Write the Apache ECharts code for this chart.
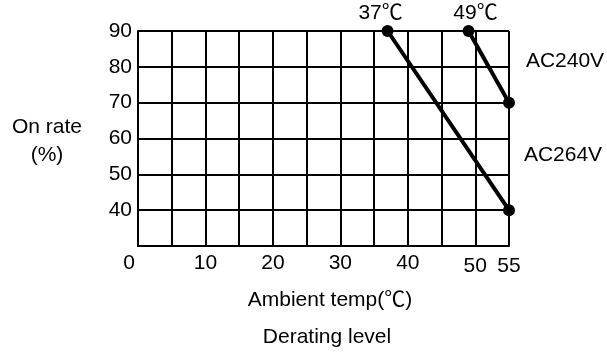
<!DOCTYPE html>
<html>
<head>
<meta charset="utf-8">
<script src="https://cdn.jsdelivr.net/npm/echarts@6/dist/echarts.min.js"></script>
<style>
  html, body { margin: 0; padding: 0; background: #fff; }
  #chart { width: 607px; height: 354px; }
</style>
</head>
<body>
<div id="chart"></div>
<script>
// Derating curves: on rate (%) versus ambient temperature
const xTickLabels = [0, 10, 20, 30, 40, 50, 55];
const yTickLabels = [40, 50, 60, 70, 80, 90];
const ac240Temp = [49, 55];
const ac240Rate = [90, 70];
const ac264Temp = [37, 55];
const ac264Rate = [90, 40];
const seriesNames = ['AC240V', 'AC264V'];

const FONT = '"Liberation Sans", Arial, "Noto Sans CJK SC", sans-serif';
const FS = 21;
const INK = '#000';

const pairs = (xs, ys) => xs.map((x, i) => [x, ys[i]]);

const chart = echarts.init(document.getElementById('chart'), null, { renderer: 'canvas' });

function makeSeries(name, xs, ys, labelOffset) {
  return {
    name: name,
    type: 'line',
    data: pairs(xs, ys).map((p, i) => ({
      value: p,
      label: i === 0 ? {
        show: true,
        position: 'top',
        distance: 1,
        offset: labelOffset,
        formatter: (d) => d.value[0] + '℃',
        color: INK,
        fontFamily: FONT,
        fontSize: FS
      } : { show: false }
    })),
    symbol: 'circle',
    symbolSize: 12,
    itemStyle: { color: INK },
    lineStyle: { color: INK, width: 4 },
    animation: false,
    z: 5
  };
}

const textStyle = (text, x, y) => ({
  type: 'text', x: x, y: y,
  style: { text: text, fill: INK, font: FS + 'px ' + FONT, align: 'center', verticalAlign: 'middle' }
});

chart.setOption({
  backgroundColor: '#fff',
  animation: false,
  grid: { left: 138, right: 98, top: 31, bottom: 108, containLabel: false },
  xAxis: {
    type: 'value',
    min: 0,
    max: 55,
    interval: 5,
    axisLine: { show: true, lineStyle: { color: INK, width: 2 } },
    axisTick: { show: false },
    splitLine: { show: true, lineStyle: { color: INK, width: 2 } },
    axisLabel: {
      margin: 7,
      color: INK,
      fontFamily: FONT,
      fontSize: FS,
      formatter: (v) => {
        if (v === 0) return '{zero|0}';
        if (v >= 50) return '{low|' + v + '}';
        return xTickLabels.indexOf(v) >= 0 ? String(v) : '';
      },
      rich: {
        zero: { padding: [0, 18, 0, 0], color: INK, fontFamily: FONT, fontSize: FS },
        low: { padding: [3, 0, 0, 0], color: INK, fontFamily: FONT, fontSize: FS }
      }
    }
  },
  yAxis: {
    type: 'value',
    min: 30,
    max: 90,
    interval: 10,
    axisLine: { show: true, lineStyle: { color: INK, width: 2 } },
    axisTick: { show: false },
    splitLine: { show: true, lineStyle: { color: INK, width: 2 } },
    axisLabel: {
      margin: 6,
      color: INK,
      fontFamily: FONT,
      fontSize: FS,
      formatter: (v) => (yTickLabels.indexOf(v) >= 0 ? String(v) : '')
    }
  },
  series: [
    makeSeries(seriesNames[0], ac240Temp, ac240Rate, [7, 0]),
    makeSeries(seriesNames[1], ac264Temp, ac264Rate, [-7, 0])
  ],
  graphic: [
    textStyle('On rate', 47, 127),
    textStyle('(%)', 47, 155),
    textStyle(seriesNames[0], 565, 61),
    textStyle(seriesNames[1], 563, 155),
    textStyle('Ambient temp(℃)', 330, 300),
    textStyle('Derating level', 327, 337)
  ]
});
</script>
</body>
</html>
